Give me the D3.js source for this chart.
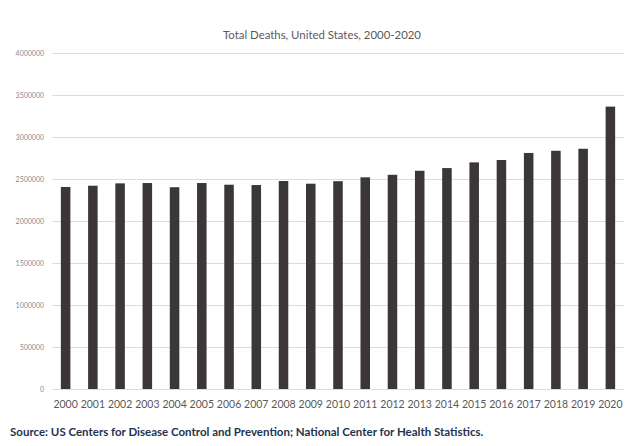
<!DOCTYPE html>
<html>
<head>
<meta charset="utf-8">
<script src="https://cdn.jsdelivr.net/npm/d3@7"></script>
<style>
  body { margin: 0; background: #fff; }
  svg { display: block; }
</style>
</head>
<body>
<svg></svg>
<script>
let width = 638, height = 446;

// values
let years = ["2000", "2001", "2002", "2003", "2004", "2005", "2006", "2007", "2008", "2009", "2010",
    "2011", "2012", "2013", "2014", "2015", "2016", "2017", "2018", "2019", "2020"];
let deaths = [2405000, 2420000, 2448000, 2452000, 2402000, 2452000, 2432000, 2428000, 2476000, 2444000, 2474000,
    2520000, 2550000, 2598000, 2630000, 2698000, 2726000, 2810000, 2836000, 2860000, 3362000];
let yTicks = [0, 500000, 1000000, 1500000, 2000000, 2500000, 3000000, 3500000, 4000000];

let svg = d3.select("svg")
    .attr("width", width)
    .attr("height", height);

let margin = { left: 52, right: 14, top: 53, bottom: 57 };

let x = d3.scaleBand()
    .domain(years)
    .range([margin.left, width - margin.right])
    .paddingInner(0.65)
    .paddingOuter(0.325);

let y = d3.scaleLinear()
    .domain([0, 4000000])
    .range([height - margin.bottom, margin.top]);

// gridlines
svg.append("g")
    .selectAll("line")
    .data(yTicks)
    .enter()
    .append("line")
    .attr("x1", margin.left)
    .attr("x2", width - margin.right)
    .attr("y1", d => y(d) + 0.5)
    .attr("y2", d => y(d) + 0.5)
    .attr("stroke", "#dcdcdc")
    .attr("stroke-width", 1);

// y labels
svg.append("g")
    .selectAll("text")
    .data(yTicks)
    .enter()
    .append("text")
    .attr("x", 44)
    .attr("y", d => y(d) + 3)
    .attr("text-anchor", "end")
    .style("font-family", "Lato, 'Open Sans', sans-serif")
    .style("font-size", "7px")
    .style("fill", "#8a8a8a")
    .text(d => d);

// bars
svg.append("g")
    .selectAll("rect")
    .data(deaths)
    .enter()
    .append("rect")
    .attr("x", (d, i) => x(years[i]))
    .attr("width", x.bandwidth())
    .attr("y", d => y(d))
    .attr("height", d => y(0) - y(d))
    .attr("fill", "#3b3737");

// x axis labels
let xAxis = d3.axisBottom(x).tickSize(0).tickPadding(12);
let gx = svg.append("g")
    .attr("transform", "translate(0," + y(0) + ")")
    .call(xAxis);
gx.select(".domain").remove();
gx.selectAll("text")
    .style("font-family", "Lato, 'Open Sans', sans-serif")
    .style("font-size", "10.5px")
    .style("fill", "#595959");

// title
svg.append("text")
    .attr("x", 322)
    .attr("y", 39)
    .attr("text-anchor", "middle")
    .style("font-family", "Lato, 'Open Sans', sans-serif")
    .style("font-size", "11.4px")
    .style("fill", "#595959")
    .text("Total Deaths, United States, 2000-2020");

// source
svg.append("text")
    .attr("x", 10)
    .attr("y", 436)
    .style("font-family", "Lato, 'Open Sans', sans-serif")
    .style("font-size", "11.5px")
    .style("font-weight", "bold")
    .style("fill", "#1f3350")
    .text("Source: US Centers for Disease Control and Prevention; National Center for Health Statistics.");
</script>
</body>
</html>
